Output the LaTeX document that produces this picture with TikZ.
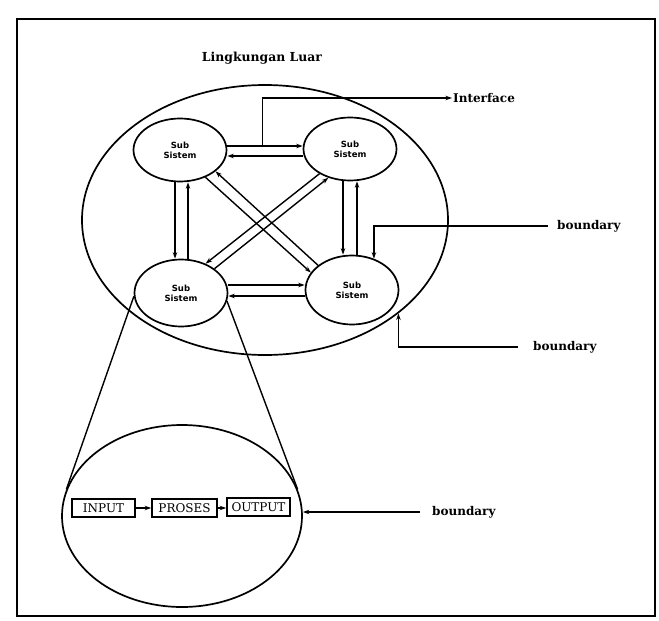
\documentclass[tikz,border=0pt]{standalone}
\usepackage{fontspec}
\setmainfont{DejaVu Serif}
\setsansfont{DejaVu Sans}
\usetikzlibrary{arrows.meta,shapes.geometric,calc}

\begin{document}
\begin{tikzpicture}[x=1pt,y=-1pt,
  sub/.style={draw, ellipse, line width=1.7pt, minimum width=93pt, minimum height=63pt,
    inner sep=0pt, align=center, font=\sffamily\bfseries\fontsize{8.5}{10}\selectfont},
  bigoval/.style={draw, ellipse, line width=1.7pt, inner sep=0pt},
  arr/.style={line width=1.4pt, -{Stealth[length=6.5pt,width=4.5pt]}},
  plain/.style={line width=1.4pt},
  lab/.style={inner sep=0pt, anchor=west, font=\bfseries\fontsize{12}{14}\selectfont},
  procbox/.style={draw, line width=1.6pt, minimum height=18pt, inner sep=0pt,
    font=\fontsize{12}{14}\selectfont}
]
\useasboundingbox (0,0) rectangle (659,621);

% outer frame
\draw[line width=2pt] (17,19) rectangle (655,616);

% environment and the four subsystems
\node[font=\bfseries\fontsize{12.4}{14}\selectfont] (title) at (262,58) {Lingkungan Luar};
\node[bigoval, minimum width=366pt, minimum height=270pt] (env) at (265,220) {};

\node[sub] (TL) at (180,150) {Sub\\Sistem};
\node[sub] (TR) at (350,149) {Sub\\Sistem};
\node[sub, minimum height=67pt] (BL) at (181,293) {Sub\\Sistem};
\node[sub, minimum height=69pt] (BR) at (352,290) {Sub\\Sistem};

% top pair
\draw[arr] ([yshift=4pt]TL.east) -- ([yshift=4pt]TL.east -| TR.west);
\draw[arr] ([yshift=-6pt]TL.east -| TR.west) -- ([yshift=-6pt]TL.east);

% bottom pair
\draw[arr] ([yshift=8pt]BL.east) -- ([yshift=8pt]BL.east -| BR.west);
\draw[arr] ([yshift=-3pt]BL.east -| BR.west) -- ([yshift=-3pt]BL.east);

% left pair
\draw[arr] ([xshift=-5pt]TL.south) -- ([xshift=-5pt]TL.south |- BL.north);
\draw[arr] ([xshift=8pt]TL.south |- BL.north) -- ([xshift=8pt]TL.south);

% right pair
\draw[arr] ([xshift=-7pt]TR.south) -- ([xshift=-7pt]TR.south |- BR.north);
\draw[arr] ([xshift=7pt]TR.south |- BR.north) -- ([xshift=7pt]TR.south);

% diagonals
\draw[arr] (BR.144) -- (TL.-31);
\draw[arr] (TL.-47) -- (BR.157);
\draw[arr] (TR.-141) -- (BL.50);
\draw[arr] (BL.36) -- (TR.-127);

% interface
\node[lab] (ifc) at (453,98) {Interface};
\coordinate (ifcstart) at ($([yshift=4pt]TL.east)!0.47!([yshift=4pt]TL.east -| TR.west)$);
\draw[arr, shorten >=1pt] (ifcstart) |- (ifc.west);

% boundaries
\node[lab] (b1) at (557,226) {boundary};
\draw[arr] ([xshift=-9pt]b1.west) -| (BR.55);

\node[lab] (b2) at (533,347) {boundary};
\draw[arr] ([xshift=-15pt]b2.west) -| (env.-35);

% detail of one subsystem
\node[bigoval, minimum width=240pt, minimum height=182pt] (detail) at (182,516) {};
\draw[plain] (BL.184) -- (detail.167);
\draw[plain] (BL.-10) -- (detail.13);

\node[procbox, minimum width=63pt] (inp) at (103.5,508) {INPUT};
\node[procbox, minimum width=65pt] (proc) at (184.5,508) {PROSES};
\node[procbox, minimum width=63pt] (outp) at (258.5,507) {OUTPUT};
\draw[arr] (inp) -- (proc);
\draw[arr] (proc) -- (proc -| outp.west);

\node[lab] (b3) at (432,512) {boundary};
\draw[arr] ([xshift=-12pt]b3.west) -- (detail.east |- b3.west);
\end{tikzpicture}
\end{document}
